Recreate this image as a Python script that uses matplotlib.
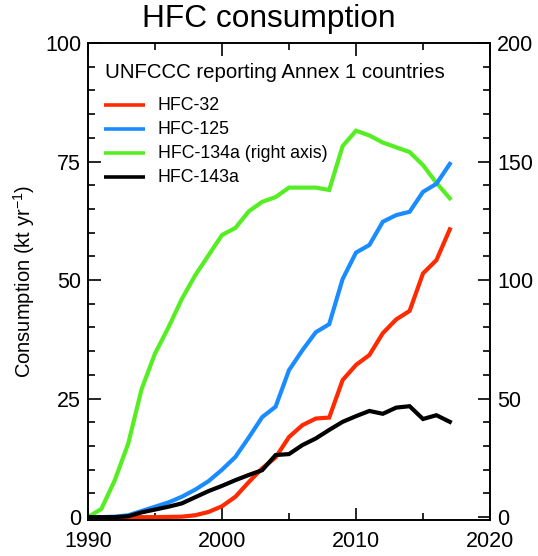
import matplotlib
matplotlib.use("Agg")
import matplotlib.pyplot as plt
from matplotlib.ticker import MultipleLocator

plt.rcParams['font.family'] = ['Liberation Sans', 'DejaVu Sans']
plt.rcParams['mathtext.fontset'] = 'custom'
plt.rcParams['mathtext.rm'] = 'Liberation Sans'
plt.rcParams['mathtext.it'] = 'Liberation Sans:italic'

years = list(range(1990, 2018))

# HFC consumption, kt/yr (HFC-134a plotted against the right axis)
hfc32 = [0, 0, 0, 0, 0, 0, 0.05, 0.1, 0.4, 1.1, 2.3, 4.3, 7.4, 10.3, 12.6,
         16.9, 19.4, 20.8, 21.0, 28.9, 32.1, 34.2, 38.8, 41.7, 43.5, 51.4,
         54.2, 60.7]
hfc125 = [0, 0, 0.1, 0.4, 1.3, 2.2, 3.1, 4.3, 5.8, 7.6, 10.0, 12.7, 16.8,
          21.1, 23.3, 31.0, 35.2, 39.0, 40.7, 50.2, 55.8, 57.4, 62.3, 63.7,
          64.4, 68.6, 70.3, 74.5]
hfc134a = [0, 3.5, 15.6, 31, 54, 69, 80, 92, 102, 110.5, 119, 122, 129, 133,
           135, 139, 139, 139, 138, 156.5, 163, 161, 158, 156, 154, 148.5,
           141, 134.5]
hfc143a = [0, 0, 0, 0.2, 1.0, 1.6, 2.2, 2.9, 4.2, 5.5, 6.6, 7.8, 8.9, 9.9,
           13.1, 13.3, 15.2, 16.6, 18.4, 20.1, 21.3, 22.4, 21.8, 23.1, 23.4,
           20.7, 21.5, 20.1]

labels = ['HFC-32', 'HFC-125', 'HFC-134a (right axis)', 'HFC-143a']
colors = ['#ff2a00', '#1a8cff', '#55ee22', '#000000']

fig = plt.figure(figsize=(5.38, 5.56), dpi=100)
ax = fig.add_axes([88 / 538, 1 - 520 / 556, 402 / 538, 477 / 556])
ax2 = ax.twinx()

lw = 3.0
fs_tick = 15.5
fs_head = 14.7
fs_leg = 12.8
ax2.plot(years, hfc134a, color=colors[2], lw=lw, solid_joinstyle='miter', zorder=2)
ax.set_zorder(ax2.get_zorder() + 1)
ax.patch.set_visible(False)
ax.plot(years, hfc32, color=colors[0], lw=lw, solid_joinstyle='miter')
ax.plot(years, hfc125, color=colors[1], lw=lw, solid_joinstyle='miter')
ax.plot(years, hfc143a, color=colors[3], lw=lw, solid_joinstyle='miter')

ax.set_xlim(1990, 2020)
ax.set_ylim(-0.6, 100)
ax2.set_ylim(-1.2, 200)

ax.xaxis.set_major_locator(MultipleLocator(10))
ax.xaxis.set_minor_locator(MultipleLocator(5))
ax.yaxis.set_major_locator(MultipleLocator(25))
ax.yaxis.set_minor_locator(MultipleLocator(5))
ax2.yaxis.set_major_locator(MultipleLocator(50))
ax2.yaxis.set_minor_locator(MultipleLocator(10))

ax.tick_params(axis='both', which='both', direction='in', top=True,
               labelsize=fs_tick, width=1.2)
ax.tick_params(axis='y', which='both', right=False, pad=5)
ax.tick_params(axis='x', which='both', pad=8)
ax.tick_params(which='major', length=9)
ax.tick_params(which='minor', length=5)
ax2.tick_params(axis='y', which='both', direction='in', labelsize=fs_tick,
                width=1.2, pad=5)
ax2.tick_params(which='major', length=9)
ax2.tick_params(which='minor', length=5)
for a in (ax, ax2):
    for s in a.spines.values():
        s.set_linewidth(1.2)

ax.set_ylabel('Consumption (kt yr$^{-1}$)', fontsize=14.5, labelpad=6)
fig.text(0.5, 1 - 19 / 556, 'HFC consumption', fontsize=22.8,
         ha='center', va='center')

# Legend: heading line plus one entry per species
ax.text(0.043, 0.939, 'UNFCCC reporting Annex 1 countries', transform=ax.transAxes,
        fontsize=fs_head, ha='left', va='center')
y0 = 0.869
dy = 0.0503
for i, (lab, col) in enumerate(zip(labels, colors)):
    yy = y0 - i * dy
    ax.plot([0.04, 0.142], [yy, yy], transform=ax.transAxes, color=col, lw=2.6,
            solid_capstyle='butt')
    ax.text(0.174, yy, lab, transform=ax.transAxes, fontsize=fs_leg, ha='left',
            va='center')

fig.savefig('out.png', dpi=100)
